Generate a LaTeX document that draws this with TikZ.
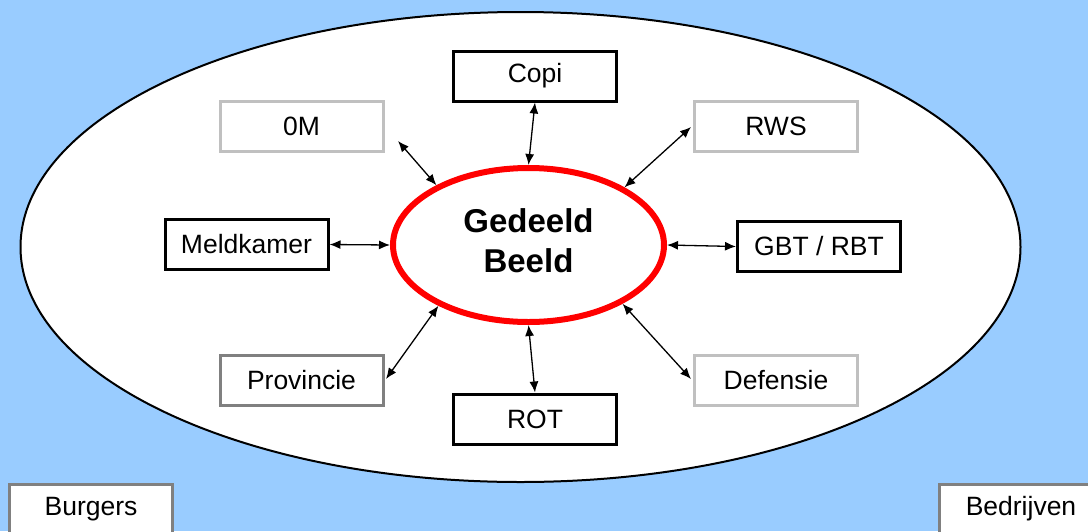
\documentclass[tikz,border=0pt]{standalone}
\usepackage{fontspec}
\setmainfont{Liberation Sans}
\usetikzlibrary{shapes.geometric,arrows.meta}
\definecolor{bgblue}{RGB}{153,204,255}
\definecolor{lightgr}{RGB}{192,192,192}
\definecolor{midgr}{RGB}{128,128,128}
\begin{document}
\begin{tikzpicture}[x=1pt,y=-1pt,
  box/.style={draw=black,fill=white,line width=3pt,minimum width=163pt,minimum height=50pt,inner sep=0pt,font=\fontsize{26.5}{30}\selectfont},
  lbox/.style={box,draw=lightgr},
  mbox/.style={box,draw=midgr},
  link/.style={line width=1.3pt,{Latex[length=11pt,width=9pt]}-{Latex[length=11pt,width=9pt]}}
]
\useasboundingbox (0,0) rectangle (1088,531);
\fill[bgblue] (0,0) rectangle (1088,531);
\draw[line width=2pt,fill=white] (520.5,247) ellipse [x radius=500, y radius=235];

\node[ellipse,draw=red,line width=6pt,minimum width=271pt,minimum height=154pt,inner sep=0pt] (gb) at (528.5,245) {};
\node[align=center,font=\bfseries\fontsize{33}{40}\selectfont,inner sep=0pt] (gbtext) at (528.5,241) {Gedeeld\\Beeld};

\node[box]  (copi) at (535,76)    {Copi};
\node[lbox] (om)   at (301.5,126.5) {0M};
\node[lbox] (rws)  at (776,126)   {RWS};
\node[box]  (mk)   at (246.5,244.5) {Meldkamer};
\node[box]  (gbt)  at (819,246.5) {GBT / RBT};
\node[mbox] (prov) at (301.5,380.5) {Provincie};
\node[box]  (rot)  at (535,419)   {ROT};
\node[lbox] (def)  at (776,380.5) {Defensie};
\node[mbox] (burg) at (91,509)    {Burgers};
\node[mbox] (bedr) at (1021,509)  {Bedrijven};

\coordinate (omtip)   at (398,141);
\coordinate (rwstip)  at (691,127);
\coordinate (provtip) at (386,379);
\coordinate (deftip)  at (691,379);

\draw[link] (copi.south) -- (gb.north);
\draw[link] (gb.south) -- (rot.north);
\draw[link] (mk.east) -- (gb.west);
\draw[link] (gb.east) -- (gbt.west);
\draw[link] (omtip) -- (gb.147);
\draw[link] (rwstip) -- (gb.31);
\draw[link] (provtip) -- (gb.214);
\draw[link] (deftip) -- (gb.328);
\end{tikzpicture}
\end{document}
